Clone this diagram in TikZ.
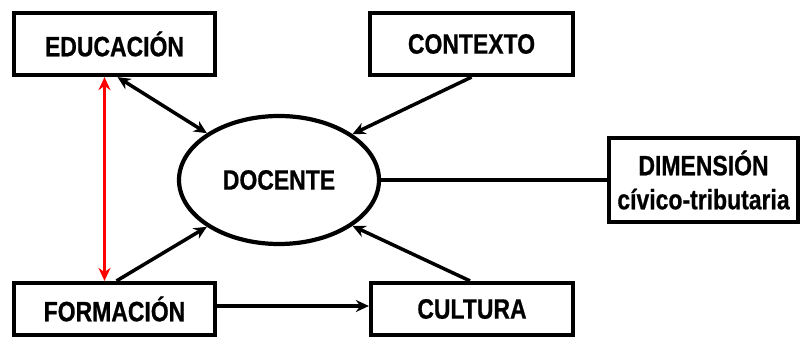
\documentclass[tikz,border=0pt]{standalone}
\usepackage{fontspec}
\setmainfont{Liberation Sans}[BoldFeatures={FakeStretch=0.82,FakeBold=0.7}]
\usetikzlibrary{arrows.meta,shapes.geometric}
\begin{document}
\begin{tikzpicture}[x=1pt,y=-1pt,
  box/.style={draw,line width=4.2pt,inner sep=0pt,align=center,font=\fontsize{28}{34}\selectfont\bfseries},
  conn/.style={line width=3.5pt},
  tip/.style={-{Stealth[length=13pt,width=12pt]}},
  dtip/.style={{Stealth[length=13pt,width=12pt]}-{Stealth[length=13pt,width=12pt]}}]
\useasboundingbox (0,0) rectangle (801,339);
\node[box,minimum width=201pt,minimum height=62pt] (edu) at (114.5,44) {EDUCACIÓN};
\node[box,minimum width=203pt,minimum height=62pt] (ctx) at (471.5,44) {CONTEXTO};
\node[box,minimum width=189pt,minimum height=84pt] (dim) at (703.5,180) {DIMENSIÓN\\cívico-tributaria};
\node[box,minimum width=201pt,minimum height=52pt] (form) at (114.5,309) {FORMACIÓN};
\node[box,minimum width=202pt,minimum height=52pt] (cul) at (472,309) {CULTURA};
\node[box,ellipse,minimum width=200pt,minimum height=128pt] (doc) at (279,180) {DOCENTE};
\draw[conn,dtip] ([xshift=3pt]edu.south) -- (doc.147);
\draw[conn,tip] (ctx.south) -- (doc.32);
\draw[conn,tip] ([xshift=2pt]form.north) -- (doc.213);
\draw[conn,tip] ([xshift=-2pt]cul.north) -- (doc.328);
\draw[conn] (doc.east) -- (dim.west);
\draw[conn,tip] ([yshift=3pt]form.east) -- ([yshift=3pt]cul.west);
\draw[conn,dtip,red] ([xshift=-10pt]edu.south) -- ([xshift=-10pt]form.north);
\end{tikzpicture}
\end{document}
